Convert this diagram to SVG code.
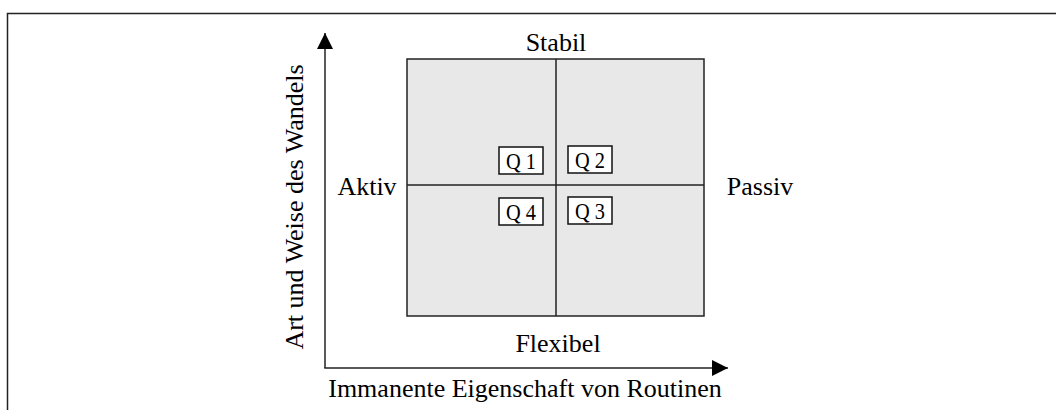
<svg xmlns="http://www.w3.org/2000/svg" width="1057" height="410" viewBox="0 0 1057 410">
<style>
text{font-family:"Liberation Serif","Times New Roman",serif;fill:#000;font-size:26px}
.q{font-size:23px;text-anchor:middle}
.ln{stroke:#222;stroke-width:1.5;fill:none}
.qb{fill:#fff;stroke:#111;stroke-width:1.5}
</style>
<defs>
<marker id="ah" viewBox="0 0 16 16" refX="16" refY="8" markerWidth="16" markerHeight="16" markerUnits="userSpaceOnUse" orient="auto">
<path d="M0,0 L16,8 L0,16 Z" fill="#000"/>
</marker>
</defs>
<rect x="0" y="0" width="1057" height="410" fill="#fff"/>
<path class="ln" d="M7.5,410 V13.5 H1056" stroke="#333"/>
<g id="matrix">
<rect x="407" y="59" width="297" height="257" fill="#e8e8e8" stroke="#222" stroke-width="1.5"/>
<line class="ln" x1="556" y1="59" x2="556" y2="316"/>
<line class="ln" x1="407" y1="185" x2="704" y2="185"/>
</g>
<g id="q1"><rect class="qb" x="499" y="147" width="44" height="27"/><text class="q" x="521" y="169" textLength="30" lengthAdjust="spacingAndGlyphs">Q 1</text></g>
<g id="q2"><rect class="qb" x="568" y="146" width="44" height="27"/><text class="q" x="590" y="168" textLength="30" lengthAdjust="spacingAndGlyphs">Q 2</text></g>
<g id="q4"><rect class="qb" x="499" y="198" width="44" height="27"/><text class="q" x="521" y="220" textLength="30" lengthAdjust="spacingAndGlyphs">Q 4</text></g>
<g id="q3"><rect class="qb" x="568" y="197" width="44" height="27"/><text class="q" x="590" y="219" textLength="30" lengthAdjust="spacingAndGlyphs">Q 3</text></g>
<g id="labels">
<text x="556" y="51" text-anchor="middle">Stabil</text>
<text x="558" y="352" text-anchor="middle">Flexibel</text>
<text x="367" y="195" text-anchor="middle">Aktiv</text>
<text x="760" y="195" text-anchor="middle">Passiv</text>
<text x="525" y="397" text-anchor="middle">Immanente Eigenschaft von Routinen</text>
<text transform="translate(303,207) rotate(-90)" text-anchor="middle">Art und Weise des Wandels</text>
</g>
<g id="connectors">
<line class="ln" x1="325" y1="368" x2="325" y2="33" marker-end="url(#ah)"/>
<line class="ln" x1="324.25" y1="368" x2="728" y2="368" marker-end="url(#ah)"/>
</g>
</svg>
